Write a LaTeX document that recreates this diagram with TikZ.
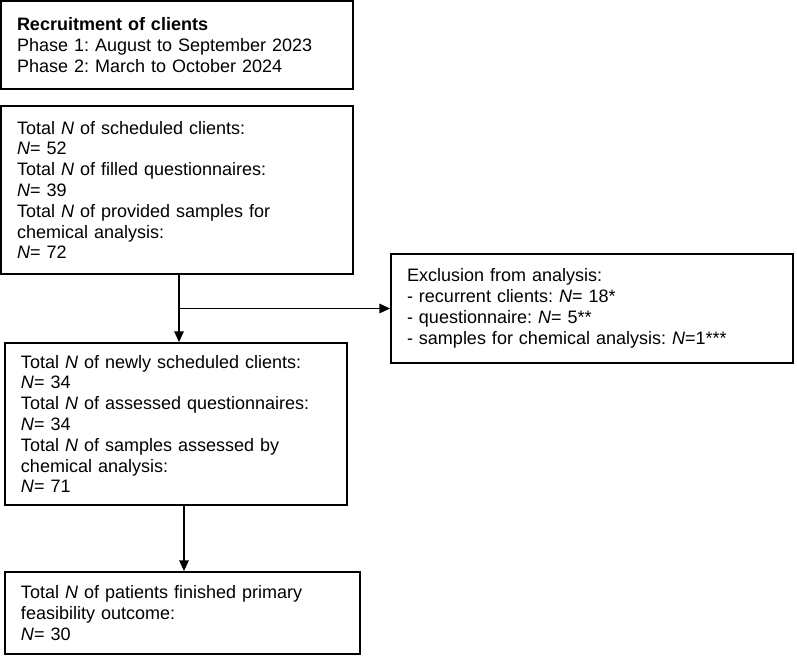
\documentclass[tikz,border=0pt]{standalone}
\usepackage{fontspec}
\setmainfont{Liberation Sans}
\usetikzlibrary{arrows.meta}
\frenchspacing
\begin{document}
\begin{tikzpicture}[x=0.75pt,y=-0.75pt,
  flowbox/.style={draw, line width=1.3pt, align=left, inner xsep=12pt,
    font=\fontsize{13.5}{15.6}\selectfont\frenchspacing, anchor=center},
  arr/.style={line width=1.2pt, -{Triangle[length=8pt,width=7pt]}}]
\useasboundingbox (0,0) rectangle (797,656);
\node[flowbox, minimum width=264pt, minimum height=66pt, text width=240pt] (b1) at (177,45)
  {\textbf{Recruitment of clients}\\Phase 1: August to September 2023\\Phase 2: March to October 2024};
\node[flowbox, minimum width=264pt, minimum height=126pt, text width=240pt] (b2) at (177,190)
  {Total \textit{N} of scheduled clients:\\\textit{N}= 52\\Total \textit{N} of filled questionnaires:\\\textit{N}= 39\\Total \textit{N} of provided samples for\\chemical analysis:\\\textit{N}= 72};
\node[flowbox, minimum width=256.5pt, minimum height=121.5pt, text width=232.5pt] (b3) at (176,424)
  {Total \textit{N} of newly scheduled clients:\\\textit{N}= 34\\Total \textit{N} of assessed questionnaires:\\\textit{N}= 34\\Total \textit{N} of samples assessed by\\chemical analysis:\\\textit{N}= 71};
\node[flowbox, minimum width=266.25pt, minimum height=61.5pt, text width=242.25pt] (b4) at (182.5,613)
  {Total \textit{N} of patients finished primary\\feasibility outcome:\\\textit{N}= 30};
\node[flowbox, minimum width=301.5pt, minimum height=81.75pt, text width=277.5pt] (ex) at (592,308.5)
  {Exclusion from analysis:\\- recurrent clients: \textit{N}= 18*\\- questionnaire: \textit{N}= 5**\\- samples for chemical analysis: \textit{N}=1***};
\coordinate (c1) at (179,0);
\coordinate (c2) at (184,0);
\coordinate (j) at (179,308.5);
\draw[arr] (b2.south -| c1) -- (b3.north -| c1);
\draw[arr] (j) -- (ex.west);
\draw[arr] (b3.south -| c2) -- (b4.north -| c2);
\end{tikzpicture}
\end{document}
